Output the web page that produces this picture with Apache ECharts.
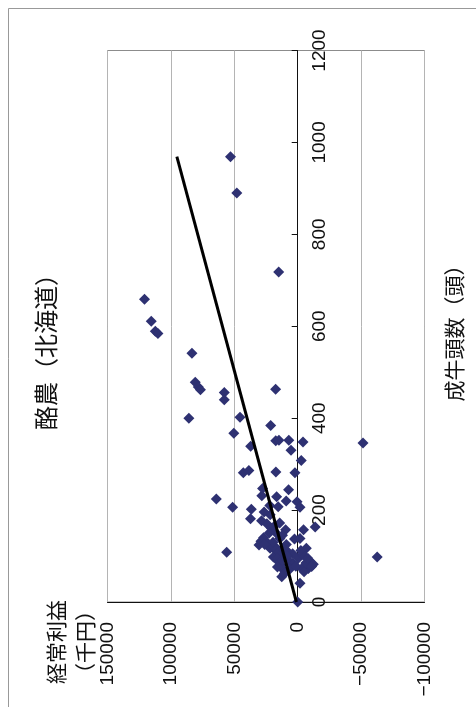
<!DOCTYPE html>
<html>
<head>
<meta charset="utf-8">
<script src="https://cdn.jsdelivr.net/npm/echarts/dist/echarts.min.js"></script>
<style>
html,body{margin:0;padding:0;background:#fff;}
#c{width:476px;height:707px;}
</style>
</head>
<body>
<div id="c"></div>
<script>
// 成牛頭数（頭）
const cows = [969, 890, 718, 659, 611, 589, 584, 541, 478, 468, 462, 456, 440, 463, 400, 402, 367, 384, 339, 351, 352, 352, 330, 348, 308, 346, 281, 286, 283, 281, 247, 231, 244, 229, 220, 218, 206, 224, 206, 207, 202, 181, 190, 177, 170, 160, 172, 157, 157, 163, 149, 140, 132, 124, 128, 138, 137, 138, 117, 108, 114, 117, 98, 117, 98, 102, 88, 91, 84, 95, 102, 88, 82, 73, 73, 72, 70, 55, 41, 0, 108, 95, 80, 62, 110, 125, 78, 66, 85, 105, 120, 145, 130, 125, 150, 165, 112, 100, 92, 76, 95, 77, 112, 196, 210];
// 経常利益（千円）
const profits = [53000, 48000, 15000, 120800, 115500, 112300, 110200, 83400, 80800, 78400, 76700, 57900, 57900, 17400, 85800, 45500, 50400, 21300, 37100, 17300, 14800, 7000, 5300, -4200, -2800, -51500, 42900, 38500, 17200, 2200, 27700, 28300, 7200, 16600, 9100, 500, -1800, 64200, 51300, 15400, 36600, 37200, 21700, 28500, 24300, 20500, 14200, 9500, -4600, -13800, 16600, 26900, 29000, 30500, 23500, 14000, 2500, -1800, -6800, 56000, 18200, 21800, -62700, 16600, 19200, 11400, 15300, 7400, 3500, -500, -4400, -9700, -12300, -8400, -3200, 6100, 11400, 12600, -1800, 0, 14500, 16000, 13000, 10500, 8000, 9000, 1500, -5000, -6500, 4000, 19000, 12000, 19500, 26000, 22500, 18500, 10500, 8500, 12500, 16000, -8000, -11000, -2500, 26500, 22000];
// trend line ends
const trendCows = [0, 969];
const trendProfits = [1000, 95300];
// axis ranges
const cowAxis = [0, 1200, 200];
const profitAxis = [-100000, 150000, 50000];

const title = '酪農（北海道）';
const xTitle = '成牛頭数（頭）';
const yTitle1 = '経常利益';
const yTitle2 = '（千円）';

const numFont = "'Liberation Sans', Arial, sans-serif";
const cjkFont = "'Noto Sans CJK JP', sans-serif";

const scatterData = cows.map((c, i) => [profits[i], c]);
const trendData = trendCows.map((c, i) => [trendProfits[i], c]);

const gridLeft = 107.5, gridRight = 51.5;
const plotW = 476 - gridLeft - gridRight;
// pixel distance from right plot edge to profit = 0
const zeroOffset = plotW * (0 - profitAxis[0]) / (profitAxis[1] - profitAxis[0]);

const chart = echarts.init(document.getElementById('c'), null, {renderer: 'canvas'});
chart.setOption({
  animation: false,
  backgroundColor: '#fff',
  grid: {
    left: gridLeft, right: gridRight, top: 50.5, bottom: 105,
    show: true, borderColor: '#8c8c8c', borderWidth: 1, backgroundColor: 'transparent'
  },
  xAxis: {
    type: 'value', inverse: true,
    min: profitAxis[0], max: profitAxis[1], interval: profitAxis[2],
    position: 'bottom',
    axisLine: {show: true, onZero: false, lineStyle: {color: '#111', width: 1}},
    axisTick: {show: false},
    splitLine: {show: true, lineStyle: {color: '#b4b4b4', width: 1}},
    axisLabel: {rotate: 90, margin: 20, color: '#111', fontSize: 19, fontFamily: numFont,
      formatter: v => (v < 0 ? '\u2212' + Math.abs(v) : String(v))}
  },
  yAxis: {
    type: 'value',
    min: cowAxis[0], max: cowAxis[1], interval: cowAxis[2],
    position: 'right',
    offset: -zeroOffset,
    axisLine: {show: true, onZero: false, lineStyle: {color: '#111', width: 1}},
    axisTick: {show: true, inside: true, length: 6, lineStyle: {color: '#111'}},
    splitLine: {show: false},
    axisLabel: {rotate: 90, margin: 13, color: '#111', fontSize: 19, fontFamily: numFont,
      formatter: v => String(v)}
  },
  series: [
    {
      type: 'scatter', data: scatterData, symbol: 'diamond', symbolSize: 11,
      itemStyle: {color: '#2e3172', opacity: 1}, z: 2
    },
    {
      type: 'line', data: trendData, symbol: 'none', silent: true,
      lineStyle: {color: '#000', width: 3}, z: 3
    }
  ],
  graphic: [
    {type: 'rect', shape: {x: 8.5, y: 8.5, width: 500, height: 720}, style: {fill: 'none', stroke: '#999', lineWidth: 1}, silent: true, z: -1},
    {type: 'text', x: 46, y: 346, rotation: Math.PI / 2,
      style: {text: title, fontSize: 24, fontFamily: cjkFont, fill: '#111', align: 'center', verticalAlign: 'middle'}},
    {type: 'text', x: 454, y: 328, rotation: Math.PI / 2,
      style: {text: xTitle, fontSize: 21, fontFamily: cjkFont, fill: '#111', align: 'center', verticalAlign: 'middle'}},
    {type: 'text', x: 56, y: 642, rotation: Math.PI / 2,
      style: {text: yTitle1, fontSize: 21, fontFamily: cjkFont, fill: '#111', align: 'center', verticalAlign: 'middle'}},
    {type: 'text', x: 85, y: 642, rotation: Math.PI / 2,
      style: {text: yTitle2, fontSize: 21, fontFamily: cjkFont, fill: '#111', align: 'center', verticalAlign: 'middle'}}
  ]
});
</script>
</body>
</html>
